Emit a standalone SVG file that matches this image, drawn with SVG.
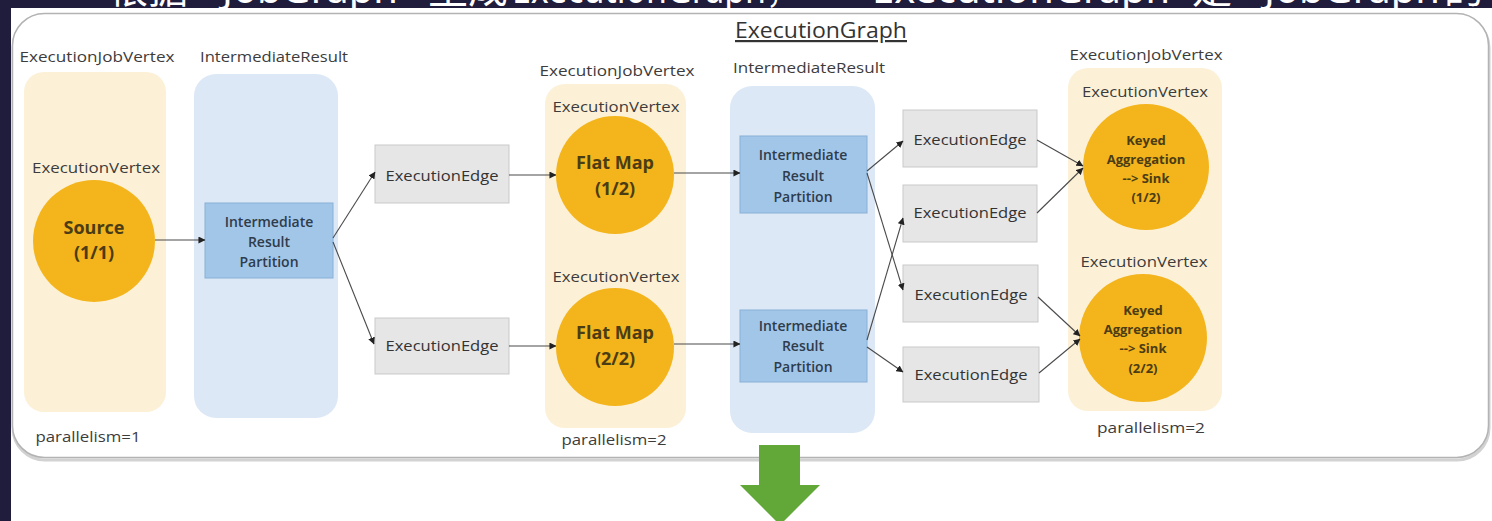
<svg xmlns="http://www.w3.org/2000/svg" width="1492" height="521" viewBox="0 0 1492 521">
  <defs>
    <style>
      .lbl{font-family:"Open Sans","Noto Sans","Liberation Sans",sans-serif;font-size:14px;fill:#3c3c3c;text-anchor:middle}
      .title{font-family:"Open Sans","Noto Sans","Liberation Sans",sans-serif;font-size:22px;fill:#333;text-anchor:middle;text-decoration:underline}
      .job{fill:#fcf1d6}
      .res{fill:#dce8f5}
      .op{fill:#f4b41c}
      .optxt{font-family:"Open Sans","Noto Sans","Liberation Sans",sans-serif;font-size:18px;font-weight:700;fill:#4a3c14;text-anchor:middle}
      .optxt-s{font-family:"Open Sans","Noto Sans","Liberation Sans",sans-serif;font-size:13px;font-weight:700;fill:#4a3c14;text-anchor:middle}
      .part{fill:#a2c6e8;stroke:#88b0d8;stroke-width:1}
      .parttxt{font-family:"Open Sans","Noto Sans","Liberation Sans",sans-serif;font-size:14px;font-weight:600;fill:#2e3c4c;text-anchor:middle}
      .edge{fill:#e6e6e6;stroke:#c9c9c9;stroke-width:1}
      .edgetxt{font-family:"Open Sans","Noto Sans","Liberation Sans",sans-serif;font-size:15px;fill:#333;text-anchor:middle}
      .conn{fill:none;stroke:#4a4a4a;stroke-width:1.1;marker-end:url(#tip)}
      .banner{font-family:"Noto Sans","Noto Sans CJK SC",sans-serif;font-size:40px;fill:#ffffff}
    </style>
    <marker id="tip" viewBox="0 0 8 8" refX="7.5" refY="4" markerWidth="7" markerHeight="7" markerUnits="userSpaceOnUse" orient="auto">
      <path d="M0,0 L8,4 L0,8 z" fill="#222"/>
    </marker>
    <clipPath id="stripClip">
      <rect x="0" y="0" width="1492" height="8"/>
    </clipPath>
  </defs>

  <!-- page background -->
  <rect x="0" y="0" width="1492" height="521" fill="#ffffff"/>

  <!-- dark slide edges with the caption line running off the top -->
  <g id="slide-frame">
    <rect x="0" y="0" width="1492" height="8" fill="#1f1d3b"/>
    <rect x="0" y="0" width="11" height="521" fill="#1f1d3b"/>
    <g clip-path="url(#stripClip)">
      <text class="banner" x="108" y="3">根据</text>
      <text class="banner" x="222" y="3" textLength="176" lengthAdjust="spacingAndGlyphs">JobGraph</text>
      <text class="banner" x="428" y="3">生成</text>
      <text class="banner" x="512" y="3" textLength="288" lengthAdjust="spacingAndGlyphs">ExecutionGraph，</text>
      <text class="banner" x="872" y="3" textLength="298" lengthAdjust="spacingAndGlyphs">ExecutionGraph</text>
      <text class="banner" x="1192" y="3">是</text>
      <text class="banner" x="1264" y="3" textLength="176" lengthAdjust="spacingAndGlyphs">JobGraph</text>
      <text class="banner" x="1444" y="3">的</text>
    </g>
  </g>

  <!-- ExecutionGraph container -->
  <g id="execution-graph">
    <rect x="13" y="16" width="1476" height="444" rx="32" fill="none" stroke="#d2d2d2" stroke-width="3"/>
    <rect x="12.5" y="13.5" width="1476" height="444" rx="32" fill="#ffffff" stroke="#b3b3b3" stroke-width="1.5"/>
    <text class="title" x="821" y="38" textLength="172" lengthAdjust="spacingAndGlyphs">ExecutionGraph</text>
  </g>

  <!-- column 1: source job vertex -->
  <g id="job-source">
    <text class="lbl" x="97" y="62" textLength="155" lengthAdjust="spacingAndGlyphs">ExecutionJobVertex</text>
    <rect class="job" x="24" y="72" width="142" height="340" rx="20"/>
    <text class="lbl" x="96" y="173" textLength="128" lengthAdjust="spacingAndGlyphs">ExecutionVertex</text>
    <text class="lbl" x="88" y="442" textLength="105" lengthAdjust="spacingAndGlyphs">parallelism=1</text>
  </g>
  <g id="vertex-source">
    <circle class="op" cx="94" cy="241" r="61"/>
    <text class="optxt" x="94" y="234">Source</text>
    <text class="optxt" x="94" y="259">(1/1)</text>
  </g>

  <!-- column 2: source result -->
  <g id="result-source">
    <text class="lbl" x="274" y="62" textLength="148" lengthAdjust="spacingAndGlyphs">IntermediateResult</text>
    <rect class="res" x="194" y="74" width="144" height="344" rx="22"/>
  </g>
  <g id="partition-source">
    <rect class="part" x="205" y="203" width="128" height="75"/>
    <text class="parttxt" x="269" y="227">Intermediate</text>
    <text class="parttxt" x="269" y="247">Result</text>
    <text class="parttxt" x="269" y="267">Partition</text>
  </g>

  <!-- column 3: edges into flat map -->
  <g id="edge-a">
    <rect class="edge" x="375" y="145" width="134" height="58"/>
    <text class="edgetxt" x="442" y="181" textLength="113" lengthAdjust="spacingAndGlyphs">ExecutionEdge</text>
  </g>
  <g id="edge-b">
    <rect class="edge" x="375" y="318" width="134" height="56"/>
    <text class="edgetxt" x="442" y="351" textLength="113" lengthAdjust="spacingAndGlyphs">ExecutionEdge</text>
  </g>

  <!-- column 4: flat map job vertex -->
  <g id="job-flatmap">
    <text class="lbl" x="617" y="76" textLength="155" lengthAdjust="spacingAndGlyphs">ExecutionJobVertex</text>
    <rect class="job" x="545" y="84" width="141" height="344" rx="20"/>
    <text class="lbl" x="616" y="112" textLength="127" lengthAdjust="spacingAndGlyphs">ExecutionVertex</text>
    <text class="lbl" x="616" y="282" textLength="127" lengthAdjust="spacingAndGlyphs">ExecutionVertex</text>
    <text class="lbl" x="614" y="445" textLength="105" lengthAdjust="spacingAndGlyphs">parallelism=2</text>
  </g>
  <g id="vertex-flatmap-1">
    <circle class="op" cx="615" cy="175" r="59"/>
    <text class="optxt" x="615" y="169">Flat Map</text>
    <text class="optxt" x="615" y="195">(1/2)</text>
  </g>
  <g id="vertex-flatmap-2">
    <circle class="op" cx="615" cy="347" r="59"/>
    <text class="optxt" x="615" y="339">Flat Map</text>
    <text class="optxt" x="615" y="365">(2/2)</text>
  </g>

  <!-- column 5: flat map result -->
  <g id="result-flatmap">
    <text class="lbl" x="809" y="73" textLength="152" lengthAdjust="spacingAndGlyphs">IntermediateResult</text>
    <rect class="res" x="730" y="86" width="145" height="347" rx="22"/>
  </g>
  <g id="partition-flatmap-1">
    <rect class="part" x="740" y="136" width="127" height="77"/>
    <text class="parttxt" x="803" y="160">Intermediate</text>
    <text class="parttxt" x="803" y="181">Result</text>
    <text class="parttxt" x="803" y="202">Partition</text>
  </g>
  <g id="partition-flatmap-2">
    <rect class="part" x="740" y="310" width="127" height="72"/>
    <text class="parttxt" x="803" y="331">Intermediate</text>
    <text class="parttxt" x="803" y="351">Result</text>
    <text class="parttxt" x="803" y="372">Partition</text>
  </g>

  <!-- column 6: edges into the sink -->
  <g id="edge-1">
    <rect class="edge" x="903" y="110" width="134" height="57"/>
    <text class="edgetxt" x="970" y="145" textLength="113" lengthAdjust="spacingAndGlyphs">ExecutionEdge</text>
  </g>
  <g id="edge-2">
    <rect class="edge" x="903" y="185" width="134" height="57"/>
    <text class="edgetxt" x="970" y="218" textLength="113" lengthAdjust="spacingAndGlyphs">ExecutionEdge</text>
  </g>
  <g id="edge-3">
    <rect class="edge" x="903" y="265" width="135" height="57"/>
    <text class="edgetxt" x="971" y="300" textLength="113" lengthAdjust="spacingAndGlyphs">ExecutionEdge</text>
  </g>
  <g id="edge-4">
    <rect class="edge" x="903" y="347" width="136" height="55"/>
    <text class="edgetxt" x="971" y="380" textLength="113" lengthAdjust="spacingAndGlyphs">ExecutionEdge</text>
  </g>

  <!-- column 7: keyed aggregation / sink job vertex -->
  <g id="job-sink">
    <text class="lbl" x="1146" y="60" textLength="153" lengthAdjust="spacingAndGlyphs">ExecutionJobVertex</text>
    <rect class="job" x="1068" y="68" width="154" height="343" rx="20"/>
    <text class="lbl" x="1145" y="97" textLength="126" lengthAdjust="spacingAndGlyphs">ExecutionVertex</text>
    <text class="lbl" x="1144" y="267" textLength="127" lengthAdjust="spacingAndGlyphs">ExecutionVertex</text>
    <text class="lbl" x="1151" y="433" textLength="108" lengthAdjust="spacingAndGlyphs">parallelism=2</text>
  </g>
  <g id="vertex-sink-1">
    <circle class="op" cx="1146" cy="167" r="63"/>
    <text class="optxt-s" x="1146" y="145">Keyed</text>
    <text class="optxt-s" x="1146" y="164">Aggregation</text>
    <text class="optxt-s" x="1146" y="183">--&gt; Sink</text>
    <text class="optxt-s" x="1146" y="202">(1/2)</text>
  </g>
  <g id="vertex-sink-2">
    <circle class="op" cx="1143" cy="338" r="64"/>
    <text class="optxt-s" x="1143" y="315">Keyed</text>
    <text class="optxt-s" x="1143" y="334">Aggregation</text>
    <text class="optxt-s" x="1143" y="353">--&gt; Sink</text>
    <text class="optxt-s" x="1143" y="373">(2/2)</text>
  </g>

  <!-- connectors -->
  <g id="connectors">
    <path class="conn" d="M155,240 L205,240"/>
    <path class="conn" d="M333,238 L375,172"/>
    <path class="conn" d="M333,242 L374,344"/>
    <path class="conn" d="M509,175 L556,175"/>
    <path class="conn" d="M509,346 L556,346"/>
    <path class="conn" d="M674,173 L740,173"/>
    <path class="conn" d="M674,344 L740,344"/>
    <path class="conn" d="M867,171 L903,141"/>
    <path class="conn" d="M867,173 L903,290"/>
    <path class="conn" d="M867,340 L903,218"/>
    <path class="conn" d="M867,347 L903,372"/>
    <path class="conn" d="M1037,140 L1083,166"/>
    <path class="conn" d="M1037,213 L1083,168"/>
    <path class="conn" d="M1038,297 L1080,336"/>
    <path class="conn" d="M1039,373 L1080,339"/>
  </g>

  <!-- downward arrow to the next stage -->
  <g id="next-stage-arrow">
    <polygon points="759,445 800,445 800,485 820,485 780,525 740,485 759,485" fill="#62a838"/>
  </g>
</svg>
